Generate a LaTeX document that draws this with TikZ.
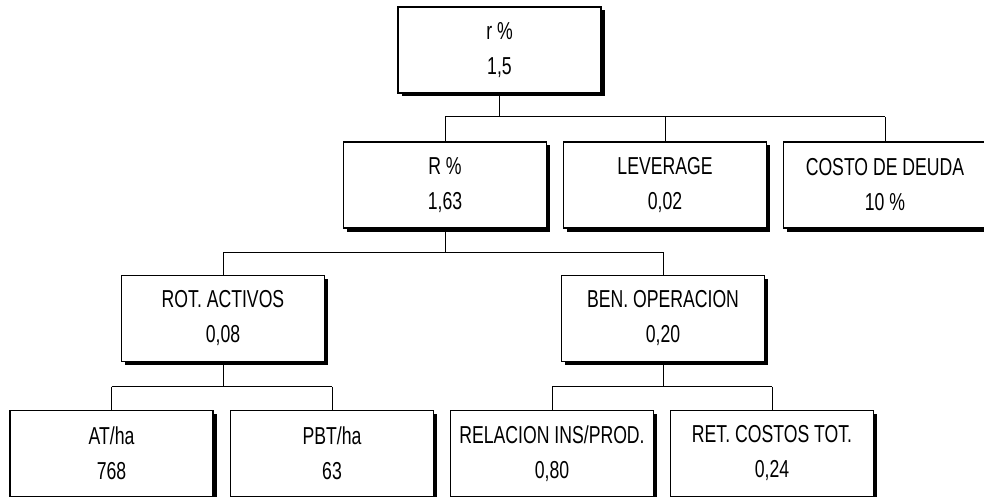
\documentclass[tikz,border=0pt]{standalone}
\usepackage{fontspec}
\setmainfont[FakeStretch=0.72]{Liberation Sans}
\usetikzlibrary{shadows}
\begin{document}
\begin{tikzpicture}[x=1pt,y=-1pt,
  box/.style={draw=black, line width=1.3pt, fill=white, minimum width=203pt, minimum height=86pt,
    inner sep=0pt, align=center, font=\fontsize{24.5}{35}\selectfont,
    drop shadow={shadow xshift=3.5pt, shadow yshift=-3.5pt, fill=black, opacity=1}},
  link/.style={draw=black, line width=1pt}]
\useasboundingbox (0,0) rectangle (984,497);
\node[box] (top) at (499.5,50) {r \%\\1,5};
\node[box] (R) at (445,185) {R \%\\1,63};
\node[box] (lev) at (665,185) {LEVERAGE\\0,02};
\node[box] (costo) at (885,185) {COSTO DE DEUDA\\10 \%};
\node[box] (rot) at (223,318.5) {ROT. ACTIVOS\\0,08};
\node[box] (ben) at (663,318.5) {BEN. OPERACION\\0,20};
\node[box] (at) at (111.5,453.5) {AT/ha\\768};
\node[box] (pbt) at (332,453.5) {PBT/ha\\63};
\node[box] (rel) at (552,453.5) {RELACION INS/PROD.\\0,80};
\node[box] (ret) at (772,453.5) {RET. COSTOS TOT.\\0,24};
\coordinate (b1) at (0,117);
\coordinate (b2) at (0,252);
\coordinate (b3) at (0,386.5);
% level 1
\draw[link] (top.south) -- (top.south |- b1);
\draw[link] (R.north |- b1) -- (costo.north |- b1);
\foreach \n in {R,lev,costo} \draw[link] (\n.north |- b1) -- (\n.north);
% level 2
\draw[link] (R.south) -- (R.south |- b2);
\draw[link] (rot.north |- b2) -- (ben.north |- b2);
\foreach \n in {rot,ben} \draw[link] (\n.north |- b2) -- (\n.north);
% level 3
\draw[link] (rot.south) -- (rot.south |- b3);
\draw[link] (at.north |- b3) -- (pbt.north |- b3);
\foreach \n in {at,pbt} \draw[link] (\n.north |- b3) -- (\n.north);
\draw[link] (ben.south) -- (ben.south |- b3);
\draw[link] (rel.north |- b3) -- (ret.north |- b3);
\foreach \n in {rel,ret} \draw[link] (\n.north |- b3) -- (\n.north);
\end{tikzpicture}
\end{document}
